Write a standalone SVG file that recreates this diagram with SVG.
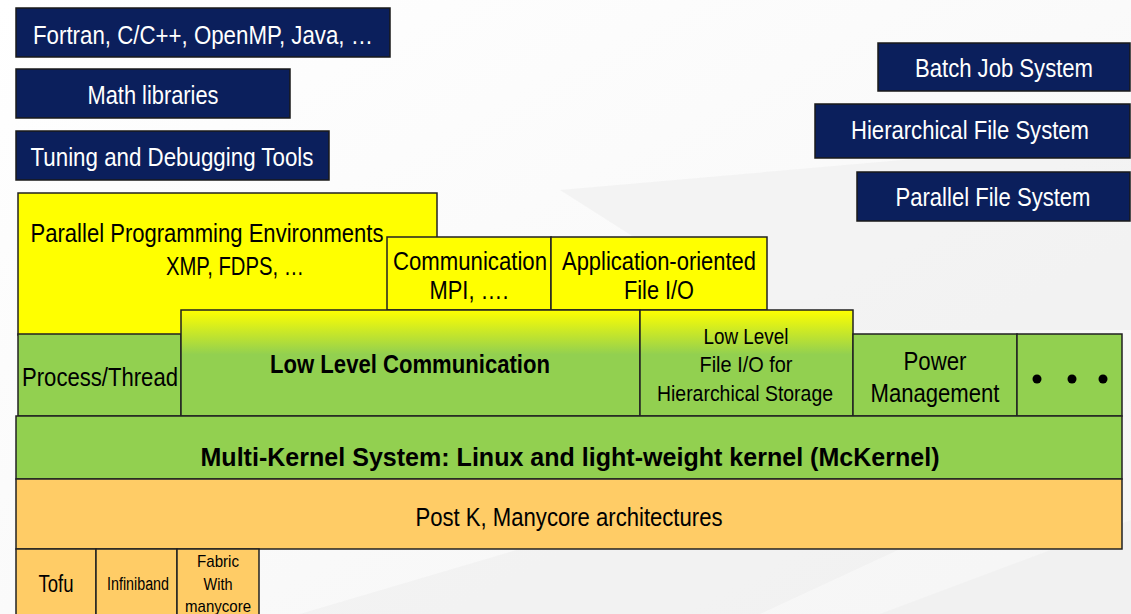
<svg xmlns="http://www.w3.org/2000/svg" width="1131" height="614" viewBox="0 0 1131 614">
<defs>
<linearGradient id="yg" x1="0" y1="0" x2="0" y2="1">
<stop offset="0" stop-color="#FFFF00"/>
<stop offset="0.42" stop-color="#92D050"/>
<stop offset="1" stop-color="#92D050"/>
</linearGradient>
<linearGradient id="bg" x1="0" y1="0" x2="1" y2="1">
<stop offset="0" stop-color="#ffffff"/>
<stop offset="1" stop-color="#f5f5f5"/>
</linearGradient>
</defs>
<style>
.blue{fill:#0B1F5C;stroke:#1a1a1a;stroke-width:1.5}
.yel{fill:#FFFF00;stroke:#222;stroke-width:1.5}
.grad{fill:url(#yg);stroke:#222;stroke-width:1.5}
.grn{fill:#92D050;stroke:#222;stroke-width:1.5}
.org{fill:#FFCC66;stroke:#222;stroke-width:1.5}
text{font-family:"Liberation Sans",Arial,sans-serif;text-anchor:middle}
.w{fill:#ffffff;font-size:25px}
.k{fill:#000000;font-size:25px}
.kb{fill:#000000;font-size:26px;font-weight:bold}
.s{fill:#000000;font-size:22px}
</style>
<rect width="1131" height="614" fill="url(#bg)"/>
<g fill="#efefef" opacity="0.6">
<polygon points="560,190 1131,140 1131,330 780,330"/>
<polygon points="300,614 520,549 900,549 760,614"/>
<polygon points="880,614 1131,520 1131,614"/>
</g>
<g id="fortran"><rect class="blue" x="16" y="8" width="374" height="49"/><text class="w" x="203" y="44" textLength="340" lengthAdjust="spacingAndGlyphs">Fortran, C/C++, OpenMP, Java, …</text></g>
<g id="math"><rect class="blue" x="16" y="69" width="274" height="49"/><text class="w" x="153" y="104" textLength="131" lengthAdjust="spacingAndGlyphs">Math libraries</text></g>
<g id="tuning"><rect class="blue" x="16" y="131" width="313" height="49"/><text class="w" x="172" y="166" textLength="283" lengthAdjust="spacingAndGlyphs">Tuning and Debugging Tools</text></g>
<g id="batch"><rect class="blue" x="878" y="43" width="252" height="48"/><text class="w" x="1004" y="77" textLength="178" lengthAdjust="spacingAndGlyphs">Batch Job System</text></g>
<g id="hfs"><rect class="blue" x="815" y="104" width="315" height="54"/><text class="w" x="970" y="139" textLength="238" lengthAdjust="spacingAndGlyphs">Hierarchical File System</text></g>
<g id="pfs"><rect class="blue" x="857" y="172" width="273" height="49"/><text class="w" x="993" y="206" textLength="195" lengthAdjust="spacingAndGlyphs">Parallel File System</text></g>
<g id="ppe"><rect class="yel" x="18" y="193" width="419" height="142"/><text class="k" x="207" y="242" textLength="353" lengthAdjust="spacingAndGlyphs">Parallel Programming Environments</text><text class="k" x="235" y="275" textLength="138" lengthAdjust="spacingAndGlyphs">XMP, FDPS, …</text></g>
<g id="comm"><rect class="yel" x="387" y="237" width="164" height="73"/><text class="k" x="470" y="270" textLength="154" lengthAdjust="spacingAndGlyphs">Communication</text><text class="k" x="469" y="299" textLength="79" lengthAdjust="spacingAndGlyphs">MPI, ….</text></g>
<g id="appio"><rect class="yel" x="551" y="237" width="216" height="73"/><text class="k" x="659" y="270" textLength="194" lengthAdjust="spacingAndGlyphs">Application-oriented</text><text class="k" x="659" y="299" textLength="70" lengthAdjust="spacingAndGlyphs">File I/O</text></g>
<g id="proc"><rect class="grn" x="18" y="334" width="163" height="82"/><text class="k" x="100" y="386" textLength="156" lengthAdjust="spacingAndGlyphs">Process/Thread</text></g>
<g id="llc"><rect class="grad" x="181" y="310" width="459" height="106"/><text class="kb" x="410" y="373" textLength="280" lengthAdjust="spacingAndGlyphs">Low Level Communication</text></g>
<g id="llio"><rect class="grad" x="640" y="310" width="213" height="106"/><text class="s" x="746" y="344" textLength="85" lengthAdjust="spacingAndGlyphs">Low Level</text><text class="s" x="746" y="372" textLength="93" lengthAdjust="spacingAndGlyphs">File I/O for</text><text class="s" x="745" y="401" textLength="176" lengthAdjust="spacingAndGlyphs">Hierarchical Storage</text></g>
<g id="power"><rect class="grn" x="853" y="334" width="164" height="82"/><text class="k" x="935" y="370" textLength="63" lengthAdjust="spacingAndGlyphs">Power</text><text class="k" x="935" y="402" textLength="129" lengthAdjust="spacingAndGlyphs">Management</text></g>
<g id="dots"><rect class="grn" x="1017" y="334" width="105" height="82"/><circle cx="1037" cy="379" r="4.5" fill="#000"/><circle cx="1072" cy="379" r="4.5" fill="#000"/><circle cx="1103" cy="379" r="4.5" fill="#000"/></g>
<g id="mck"><rect class="grn" x="16" y="416" width="1106" height="63"/><text class="kb" x="570" y="466" textLength="739" lengthAdjust="spacingAndGlyphs">Multi-Kernel System: Linux and light-weight kernel (McKernel)</text></g>
<g id="postk"><rect class="org" x="16" y="479" width="1106" height="70"/><text class="k" x="569" y="526" textLength="307" lengthAdjust="spacingAndGlyphs">Post K, Manycore architectures</text></g>
<g id="tofu"><rect class="org" x="16" y="549" width="80" height="68"/><text class="k" x="56" y="592" style="font-size:23px" textLength="35" lengthAdjust="spacingAndGlyphs">Tofu</text></g>
<g id="ib"><rect class="org" x="96" y="549" width="81" height="68"/><text class="k" x="138" y="590" style="font-size:18px" textLength="62" lengthAdjust="spacingAndGlyphs">Infiniband</text></g>
<g id="fabric"><rect class="org" x="177" y="549" width="82" height="68"/><text class="k" x="218" y="567" style="font-size:17px" textLength="42" lengthAdjust="spacingAndGlyphs">Fabric</text><text class="k" x="218" y="590" style="font-size:17px" textLength="29" lengthAdjust="spacingAndGlyphs">With</text><text class="k" x="218" y="612" style="font-size:17px" textLength="66" lengthAdjust="spacingAndGlyphs">manycore</text></g>
<g id="connectors"/>
</svg>
